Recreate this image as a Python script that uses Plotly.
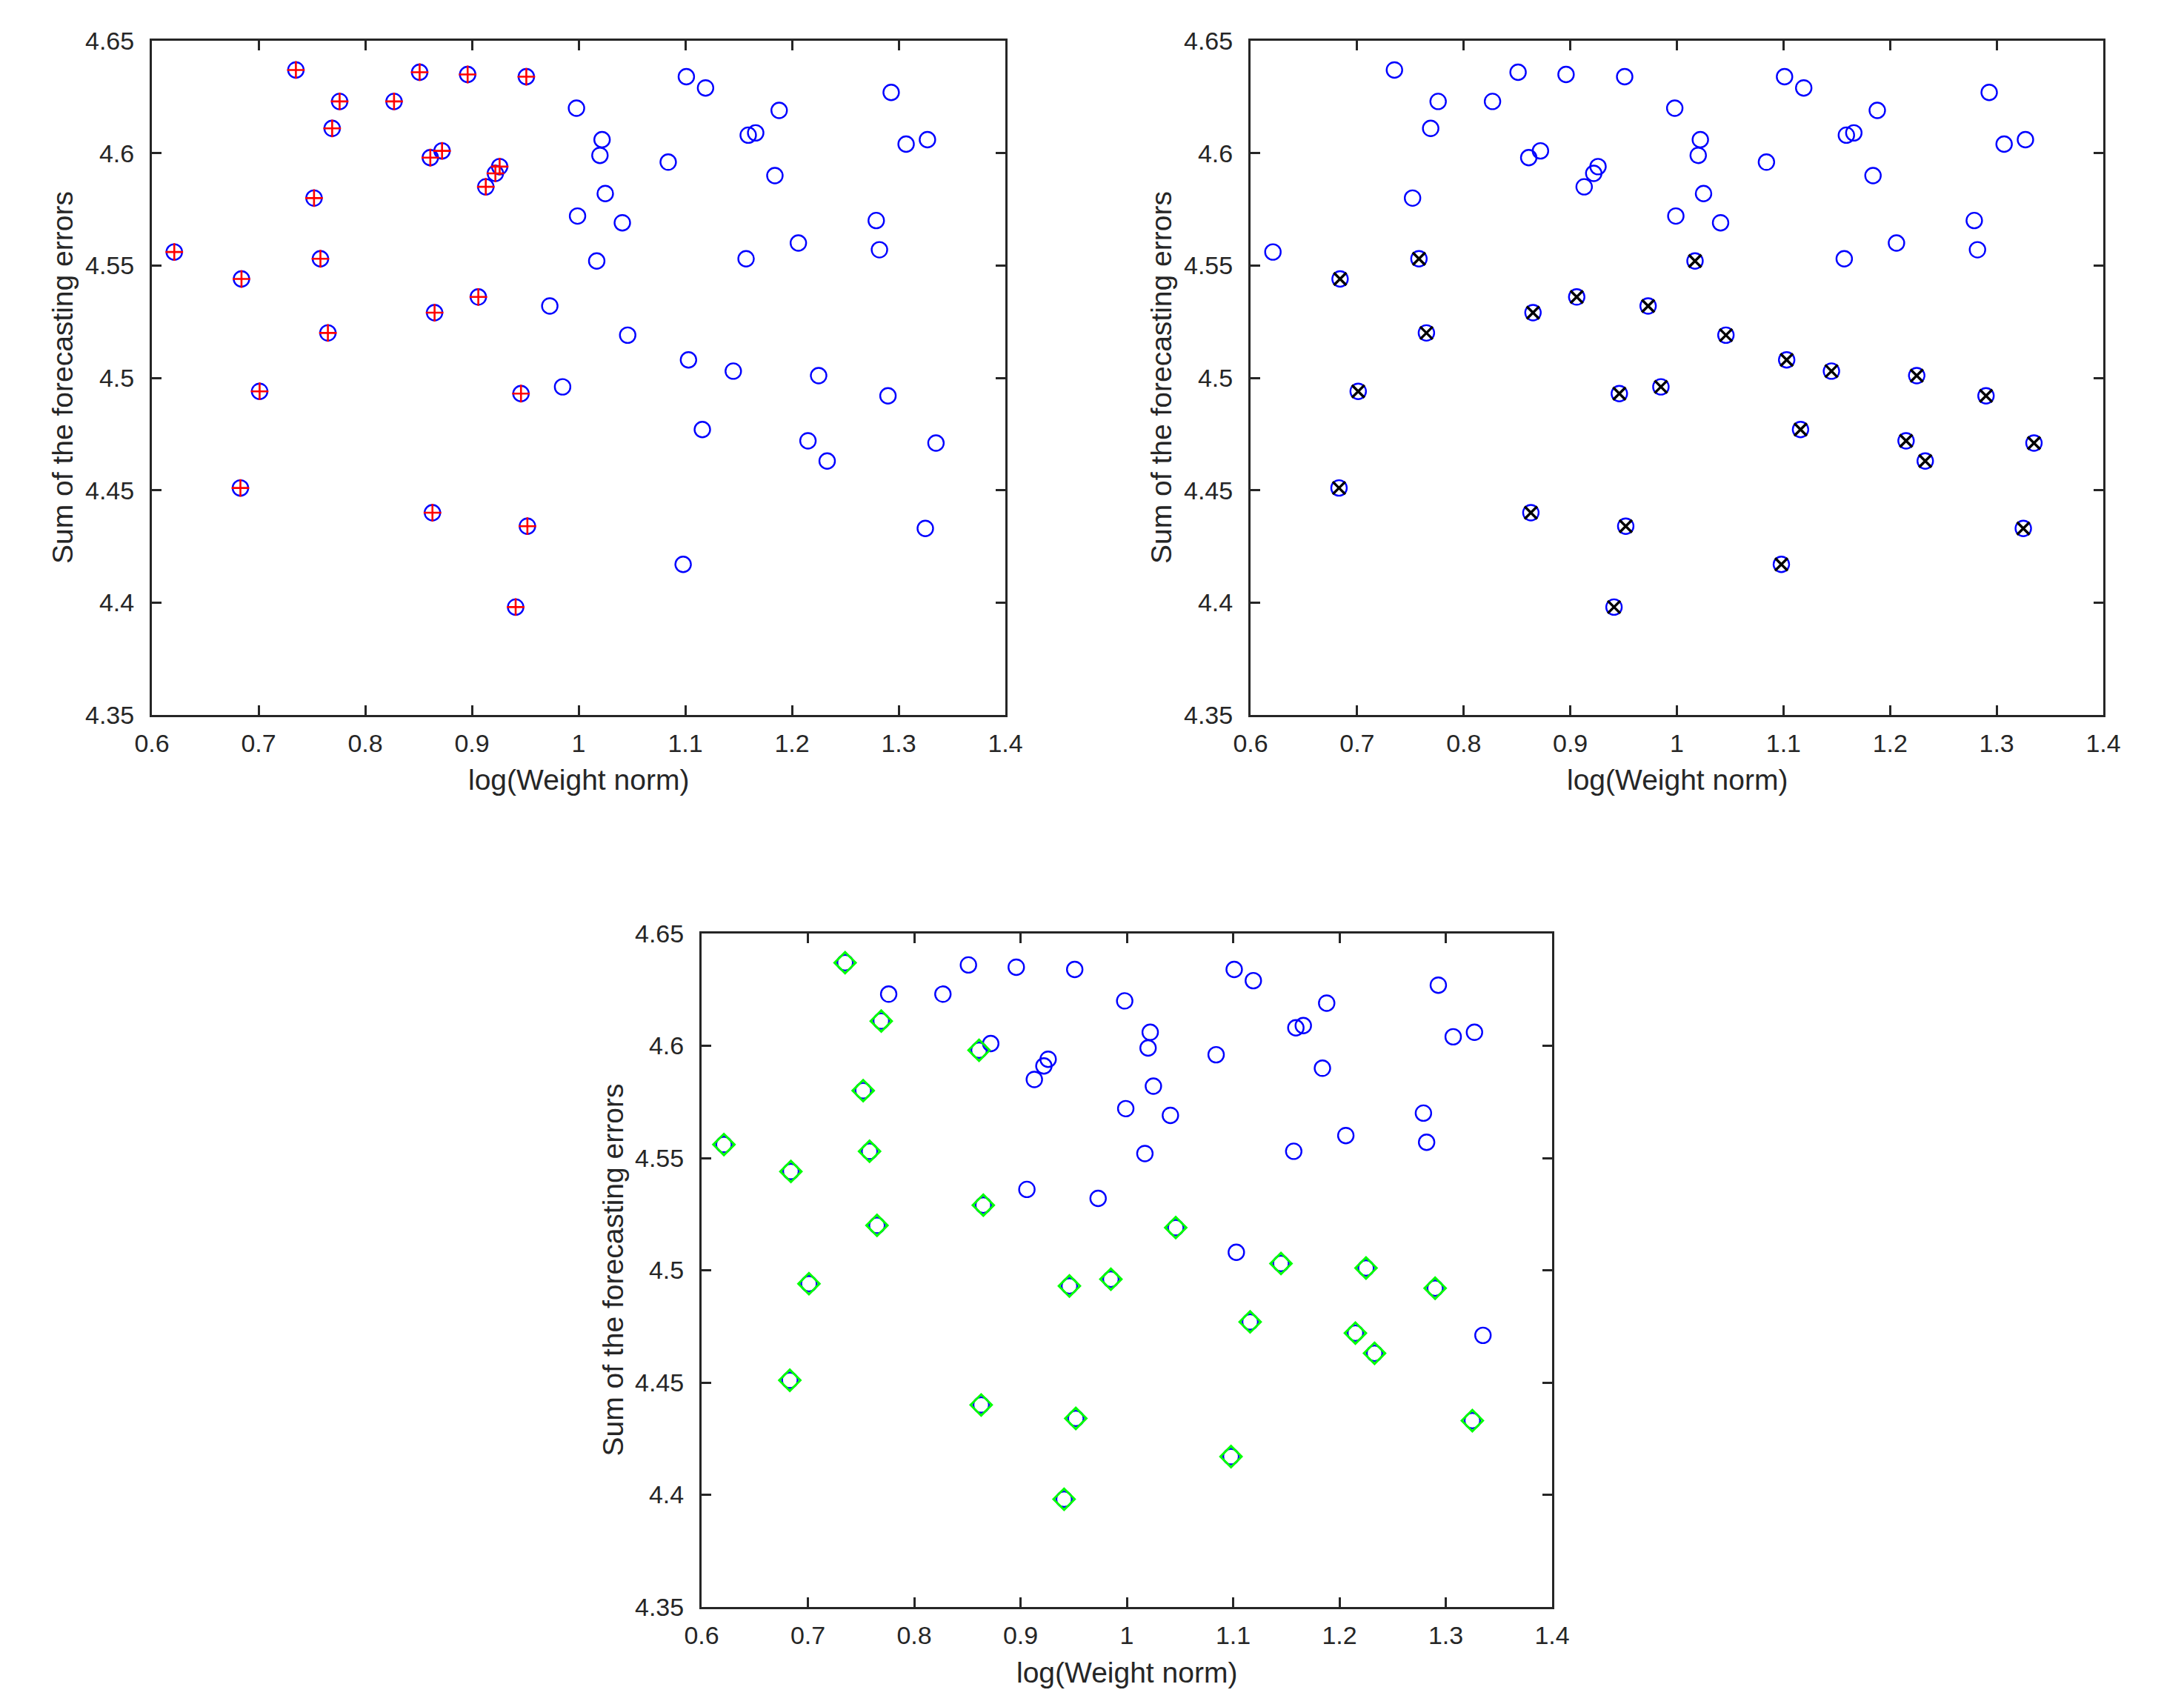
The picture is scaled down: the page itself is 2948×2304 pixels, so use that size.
import plotly.graph_objects as go

# log(Weight norm) and sum of forecasting errors for every network
weight_norm = [0.621, 0.684, 0.701, 0.683, 0.735, 0.752, 0.758, 0.765, 0.769, 0.776,
               0.827, 0.851, 0.861, 0.872, 0.865, 0.863, 0.896, 0.906, 0.913, 0.922,
               0.926, 0.946, 0.941, 0.951, 0.952, 0.973, 0.985, 0.998, 0.999, 1.017,
               1.022, 1.020, 1.025, 1.041, 1.046, 1.084, 1.101, 1.098, 1.103, 1.119,
               1.116, 1.145, 1.157, 1.159, 1.166, 1.188, 1.184, 1.206, 1.225, 1.215,
               1.233, 1.279, 1.282, 1.293, 1.290, 1.307, 1.327, 1.325, 1.335]
errors = [4.556, 4.544, 4.494, 4.451, 4.637, 4.580, 4.553, 4.520, 4.611, 4.623,
          4.623, 4.636, 4.598, 4.601, 4.529, 4.440, 4.635, 4.536, 4.585, 4.591,
          4.594, 4.493, 4.398, 4.634, 4.434, 4.532, 4.496, 4.620, 4.572, 4.552,
          4.606, 4.599, 4.582, 4.569, 4.519, 4.596, 4.634, 4.417, 4.508, 4.629,
          4.477, 4.503, 4.553, 4.608, 4.609, 4.619, 4.590, 4.560, 4.501, 4.472,
          4.463, 4.570, 4.557, 4.627, 4.492, 4.604, 4.606, 4.433, 4.471]

# selected networks (indices into the arrays above)
sel_weight = list(range(0, 25))
sel_error = [1, 2, 3, 6, 7, 14, 15, 17, 21, 22, 24, 25, 26, 29, 34, 37, 38, 40, 41,
             48, 49, 50, 54, 57, 58]
sel_both = [0, 1, 2, 3, 4, 5, 6, 7, 8, 12, 14, 15, 21, 22, 24, 26, 34, 37, 40, 41,
            48, 49, 50, 54, 57]

x_ticks = [0.6, 0.7, 0.8, 0.9, 1.0, 1.1, 1.2, 1.3, 1.4]
x_tick_labels = ['0.6', '0.7', '0.8', '0.9', '1', '1.1', '1.2', '1.3', '1.4']
y_ticks = [4.35, 4.4, 4.45, 4.5, 4.55, 4.6, 4.65]
y_tick_labels = ['4.35', '4.4', '4.45', '4.5', '4.55', '4.6', '4.65']
x_title = 'log(Weight norm)'
y_title = 'Sum of the forecasting errors'

# page body has an 8px margin, so the figure is a bit smaller and everything shifts by 8
OFF = 8
W, H = 2948 - 2 * OFF, 2304 - 2 * OFF
FONT = 'Liberation Sans, Arial, sans-serif'
AX = '#262626'

# panel boxes in page pixels: left, right, top, bottom
panels = [(205, 1357, 55, 965), (1688, 2839, 55, 965), (947, 2095, 1260, 2169)]
overlays = [
    (sel_weight, dict(symbol='cross-thin', size=17, line=dict(color='red', width=2.6))),
    (sel_error, dict(symbol='x-thin', size=17, line=dict(color='black', width=3.4))),
    (sel_both, dict(symbol='diamond-open', size=22, color='#00ff00', line=dict(color='#00ff00', width=3))),
]

fig = go.Figure()
layout = {}
notes = []
for i, (box, (idx, mk)) in enumerate(zip(panels, overlays), start=1):
    l, r, t, b = [v - OFF for v in box]
    xa, ya = f'x{i}', f'y{i}'
    fig.add_trace(go.Scatter(x=weight_norm, y=errors, mode='markers', xaxis=xa, yaxis=ya,
                             marker=dict(symbol='circle-open', size=21, color='blue',
                                         line=dict(color='blue', width=2.4)),
                             showlegend=False, hoverinfo='skip'))
    fig.add_trace(go.Scatter(x=[weight_norm[k] for k in idx], y=[errors[k] for k in idx],
                             mode='markers', xaxis=xa, yaxis=ya, marker=mk,
                             showlegend=False, hoverinfo='skip'))
    common = dict(ticks='inside', ticklen=13, tickwidth=2.5, tickcolor=AX,
                  showline=True, linewidth=3, linecolor=AX, mirror='ticks',
                  showgrid=False, zeroline=False, automargin=False,
                  tickfont=dict(family=FONT, size=34, color=AX))
    layout[f'xaxis{i}'] = dict(common, domain=[l / W, r / W], anchor=ya, range=[0.6, 1.4],
                               tickvals=x_ticks, ticktext=x_tick_labels, ticklabelstandoff=6)
    layout[f'yaxis{i}'] = dict(common, domain=[1 - b / H, 1 - t / H], anchor=xa, range=[4.35, 4.65],
                               tickvals=y_ticks, ticktext=y_tick_labels, ticklabelstandoff=14)
    # axis titles
    notes.append(dict(text=x_title, xref='paper', yref='paper', x=(l + r) / 2 / W,
                      y=1 - (b + 88) / H, xanchor='center', yanchor='middle', showarrow=False,
                      font=dict(family=FONT, size=39, color=AX)))
    notes.append(dict(text=y_title, xref='paper', yref='paper', x=(l - 120) / W,
                      y=1 - (t + b) / 2 / H, xanchor='center', yanchor='middle', textangle=-90,
                      showarrow=False, font=dict(family=FONT, size=39, color=AX)))

fig.update_layout(**layout)
fig.update_layout(width=W, height=H, margin=dict(l=0, r=0, t=0, b=0), autosize=False,
                  plot_bgcolor='white', paper_bgcolor='white', showlegend=False,
                  annotations=notes)

fig.write_html("out.html")
